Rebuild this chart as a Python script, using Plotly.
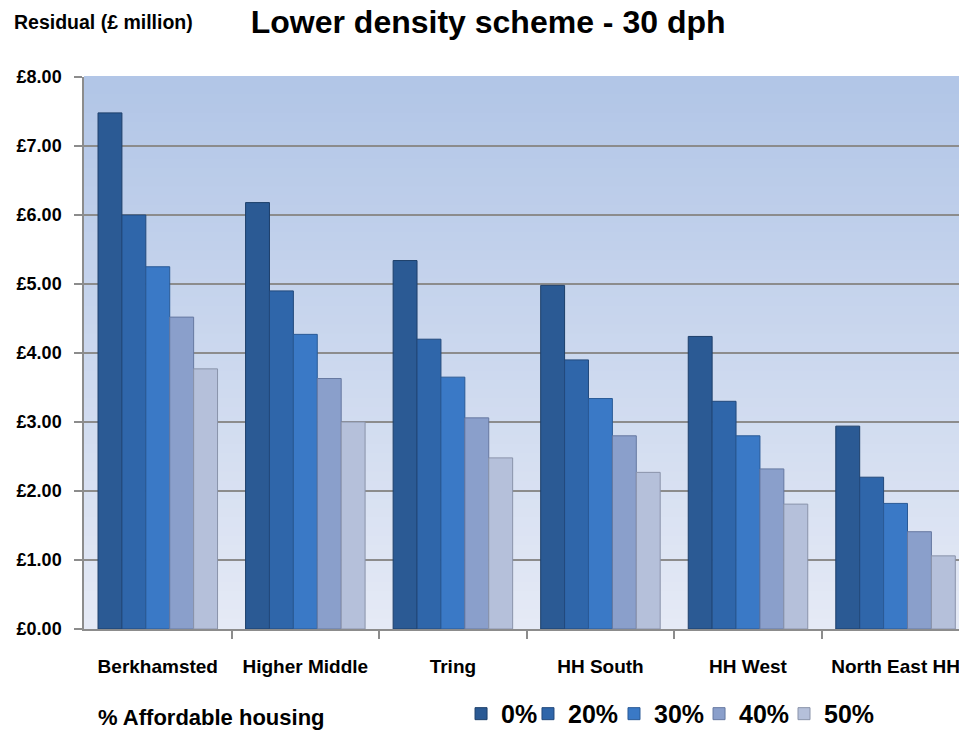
import plotly.graph_objects as go

categories = ["Berkhamsted", "Higher Middle", "Tring", "HH South", "HH West", "North East HH"]
series_names = ["0%", "20%", "30%", "40%", "50%"]
values_0 = [7.48, 6.18, 5.34, 4.98, 4.24, 2.94]
values_20 = [6.00, 4.90, 4.20, 3.90, 3.30, 2.20]
values_30 = [5.25, 4.27, 3.65, 3.34, 2.80, 1.82]
values_40 = [4.52, 3.63, 3.06, 2.80, 2.32, 1.41]
values_50 = [3.77, 3.00, 2.48, 2.27, 1.81, 1.06]
series_values = [values_0, values_20, values_30, values_40, values_50]
y_ticks = [0, 1, 2, 3, 4, 5, 6, 7, 8]
y_tick_labels = ["£0.00", "£1.00", "£2.00", "£3.00", "£4.00", "£5.00", "£6.00", "£7.00", "£8.00"]

colors = ["#2b5a94", "#2f66aa", "#3a79c6", "#8a9fcb", "#b5c0da"]
edge_colors = ["#1d3f6a", "#22497c", "#2a5a96", "#6678a0", "#8a93aa"]
legend_ids = ["legend", "legend2", "legend3", "legend4", "legend5"]
legend_x = [0.4309, 0.5074, 0.6057, 0.7029, 0.8000]

FONT = "Liberation Sans, Arial, sans-serif"

fig = go.Figure()
for name, vals, c, ec, lg in zip(series_names, series_values, colors, edge_colors, legend_ids):
    fig.add_trace(go.Bar(
        x=categories, y=vals, name=name, legend=lg,
        marker=dict(color=c, line=dict(color=ec, width=1)),
    ))

# gradient plot background (light blue top -> near white bottom)
shapes = []
n = 60
top = (178, 198, 231)
bot = (229, 234, 246)
for i in range(n):
    t = i / (n - 1)
    r = int(top[0] + (bot[0] - top[0]) * t)
    g = int(top[1] + (bot[1] - top[1]) * t)
    b = int(top[2] + (bot[2] - top[2]) * t)
    shapes.append(dict(
        type="rect", xref="x domain", yref="y domain",
        x0=0, x1=1, y0=1 - (i + 1) / n, y1=1 - i / n + 0.002,
        fillcolor=f"rgb({r},{g},{b})", line=dict(width=0), layer="below",
    ))

legend_style = dict(
    orientation="h", xanchor="left", y=-0.1955, yanchor="bottom",
    font=dict(size=25, family=FONT, color="black", weight="bold"),
    itemwidth=30, bgcolor="rgba(0,0,0,0)",
)

fig.update_layout(
    width=959, height=738,
    paper_bgcolor="white",
    plot_bgcolor="white",
    shapes=shapes,
    barmode="group",
    bargap=0.19,
    bargroupgap=0,
    margin=dict(l=84, r=0, t=77, b=109),
    font=dict(family=FONT, color="black"),
    title=dict(
        text="<b>Lower density scheme - 30 dph</b>",
        x=0.509, xanchor="center", y=0.970, yanchor="middle",
        font=dict(size=32, family=FONT, color="black"),
    ),
    showlegend=True,
    annotations=[
        dict(text="<b>Residual (£ million)</b>", xref="paper", yref="paper",
             x=-0.082, y=1.0996, xanchor="left", yanchor="middle", showarrow=False,
             font=dict(size=19.5, family=FONT, color="black")),
        dict(text="<b>% Affordable housing</b>", xref="paper", yref="paper",
             x=0.0135, y=-0.161, xanchor="left", yanchor="middle", showarrow=False,
             font=dict(size=22, family=FONT, color="black")),
    ],
)
for lg, lx in zip(legend_ids, legend_x):
    fig.update_layout({lg: dict(legend_style, x=lx)})

fig.update_xaxes(
    range=[-0.5, 5.43],
    showline=True, linecolor="#8c8c8c", linewidth=1.5,
    ticks="", showgrid=False,
    tickfont=dict(size=19, family=FONT, color="black", weight="bold"),
    ticklabelstandoff=19,
)
# category boundary tick marks via minor ticks
fig.update_xaxes(minor=dict(ticks="outside", ticklen=8, tickcolor="#8c8c8c", tickwidth=1.5,
                            tickvals=[0.5, 1.5, 2.5, 3.5, 4.5], showgrid=False))

fig.update_yaxes(
    range=[0, 8], tickvals=y_ticks, ticktext=y_tick_labels,
    showline=True, linecolor="#8c8c8c", linewidth=1.5,
    ticks="outside", ticklen=8, tickcolor="#8c8c8c", tickwidth=1.5,
    showgrid=True, gridcolor="#8c8c8c", gridwidth=1.5,
    tickfont=dict(size=18, family=FONT, color="black", weight="bold"),
    ticklabelstandoff=9,
    zeroline=False,
)

fig.write_html(
    "out.html",
    config={"displayModeBar": False},
    post_script="document.body.style.margin='0px';document.body.style.overflow='hidden';",
)
